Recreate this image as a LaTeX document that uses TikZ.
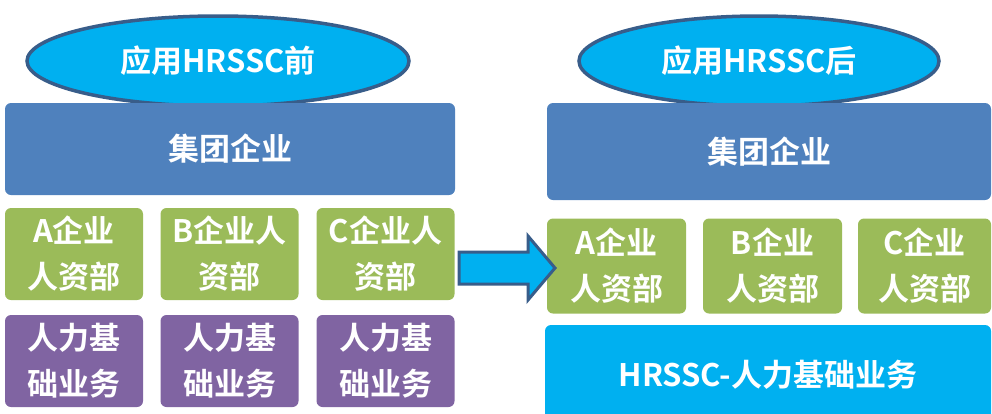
\documentclass[tikz,border=0pt]{standalone}
\usepackage{fontspec}
\setmainfont{Noto Sans CJK SC}[BoldFont={Noto Sans CJK SC Bold}]
\usepackage{tikz}
\usetikzlibrary{shapes.geometric}

\definecolor{skyfill}{HTML}{00B0F0}
\definecolor{edgeblue}{HTML}{385D8A}
\definecolor{groupblue}{HTML}{4F81BD}
\definecolor{deptgreen}{HTML}{9BBB59}
\definecolor{basepurple}{HTML}{8064A2}

\begin{document}
\begin{tikzpicture}[x=1pt, y=-1pt,
    label text/.style={text=white, font=\fontsize{31}{46}\selectfont\bfseries, align=center, inner sep=0pt},
    stage/.style={label text, ellipse, draw=edgeblue, line width=3.5pt, fill=skyfill, minimum width=382pt, minimum height=90pt},
    tile/.style={label text, rectangle, rounded corners=6pt},
    group/.style={tile, fill=groupblue},
    dept/.style={tile, fill=deptgreen},
    base/.style={tile, fill=basepurple}]
    \useasboundingbox (0,0) rectangle (992,413);

    % before
    \node[stage] (pre) at (218,61) {应用HRSSC前};
    \node[group, minimum width=450pt, minimum height=92pt] (grpL) at (230,149) {集团企业};
    \node[dept, minimum width=138pt, minimum height=92pt] (dA) at (74,254) {A企业\\人资部};
    \node[dept, minimum width=138pt, minimum height=92pt] (dB) at (229.5,254) {B企业人\\资部};
    \node[dept, minimum width=138pt, minimum height=92pt] (dC) at (385.5,254) {C企业人\\资部};
    \node[base, minimum width=138pt, minimum height=92pt] (bA) at (74,361) {人力基\\础业务};
    \node[base, minimum width=138pt, minimum height=92pt] (bB) at (229.5,361) {人力基\\础业务};
    \node[base, minimum width=138pt, minimum height=92pt] (bC) at (385.5,361) {人力基\\础业务};

    % after
    \node[stage, minimum width=360pt] (post) at (759,61) {应用HRSSC后};
    \node[group, minimum width=444pt, minimum height=97pt] (grpR) at (769,151.5) {集团企业};
    \node[dept, minimum width=139pt, minimum height=95pt] (rA) at (616.5,266) {A企业\\人资部};
    \node[dept, minimum width=139pt, minimum height=95pt] (rB) at (772.5,266) {B企业\\人资部};
    \node[dept, minimum width=133pt, minimum height=95pt] (rC) at (924.5,266) {C企业\\人资部};
    \node[tile, fill=skyfill, minimum width=446pt, minimum height=100pt] (ssc) at (768,375) {HRSSC-人力基础业务};

    % shift arrow
    \draw[draw=edgeblue, line width=3pt, fill=skyfill, line join=miter]
        (459,252) -- (528,252) -- (528,236) -- (555,268) -- (528,300) -- (528,284) -- (459,284) -- cycle;
\end{tikzpicture}
\end{document}
